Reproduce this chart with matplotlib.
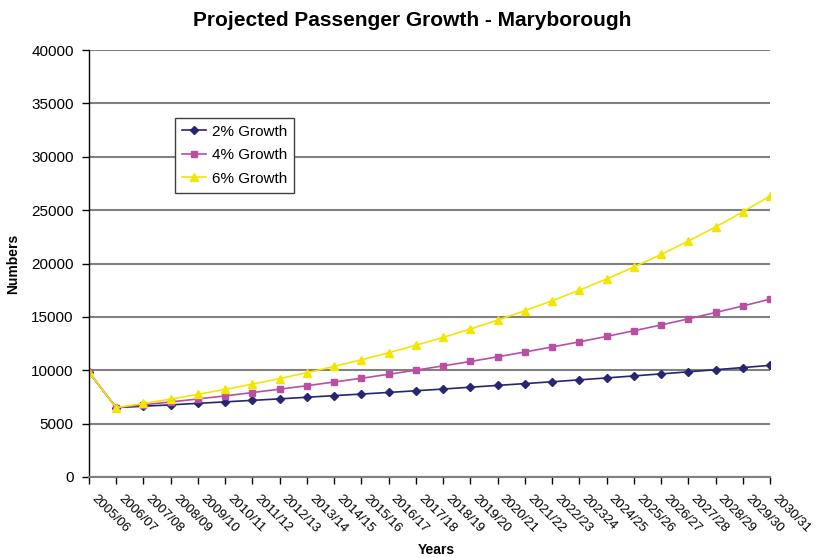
import matplotlib
matplotlib.use("Agg")
import matplotlib.pyplot as plt

years = ["2005/06", "2006/07", "2007/08", "2008/09", "2009/10", "2010/11", "2011/12",
         "2012/13", "2013/14", "2014/15", "2015/16", "2016/17", "2017/18", "2018/19",
         "2019/20", "2020/21", "2021/22", "2022/23", "202324", "2024/25", "2025/26",
         "2026/27", "2027/28", "2028/29", "2029/30", "2030/31"]

growth_2 = [9800, 6500, 6630, 6760, 6900, 7040, 7180, 7320, 7470, 7620, 7770, 7920, 8080,
            8240, 8410, 8580, 8750, 8920, 9100, 9280, 9470, 9660, 9850, 10050, 10250, 10460]
growth_4 = [9800, 6500, 6760, 7030, 7310, 7600, 7910, 8230, 8550, 8900, 9250, 9620, 10010,
            10410, 10820, 11260, 11710, 12180, 12660, 13170, 13700, 14240, 14810, 15410,
            16020, 16660]
growth_6 = [9800, 6500, 6890, 7300, 7740, 8210, 8700, 9220, 9770, 10360, 10980, 11640,
            12340, 13080, 13860, 14700, 15580, 16510, 17500, 18550, 19670, 20850, 22100,
            23420, 24830, 26320]

series_names = ["2% Growth", "4% Growth", "6% Growth"]
colors = ["#262673", "#B94FA3", "#F2E600"]
markers = ["D", "s", "^"]
msizes = [4, 5, 6]

plt.rcParams['font.family'] = ['Liberation Sans', 'DejaVu Sans']

fig = plt.figure(figsize=(8.16, 5.58), dpi=100)
ax = fig.add_axes([89/816, 1 - 477/558, (770-89)/816, (477-50)/558])

x = list(range(len(years)))
for vals, name, c, m, ms in zip([growth_2, growth_4, growth_6], series_names, colors, markers, msizes):
    ax.plot(x, vals, color=c, marker=m, markersize=ms, linewidth=1.2, label=name,
            markeredgecolor=c, markerfacecolor=c)

ax.set_xlim(0, len(years) - 1)
ax.set_ylim(0, 40000)
ax.set_yticks(range(0, 40001, 5000))
ax.set_yticklabels([str(v) for v in range(0, 40001, 5000)], fontsize=11)
ax.set_xticks(x)
ax.set_xticklabels(years, rotation=-45, ha='left', va='top', rotation_mode='default', fontsize=9.5)

ax.yaxis.grid(True, color='#808080', linewidth=1.5)
ax.set_axisbelow(True)
for s in ['top', 'right']:
    ax.spines[s].set_visible(False)
ax.spines['left'].set_color('black')
ax.spines['left'].set_linewidth(1.0)
ax.spines['bottom'].set_color('#808080')
ax.spines['bottom'].set_linewidth(1.5)
ax.tick_params(axis='y', length=5, width=1, color='black', pad=6)
ax.tick_params(axis='x', length=5, width=1, color='black', pad=6)

fig.text(412/816, 1 - 20/558, "Projected Passenger Growth - Maryborough", fontsize=15,
         fontweight='bold', ha='center', va='center')
ax.set_ylabel("Numbers", fontsize=10, fontweight='bold', labelpad=8)
fig.text(436/816, 1 - 550/558, "Years", fontsize=10, fontweight='bold', ha='center', va='center')

leg = ax.legend(loc='upper left', bbox_to_anchor=(0.126, 0.841), fontsize=11, frameon=True,
                fancybox=False, edgecolor='#404040', framealpha=1, borderpad=0.45,
                borderaxespad=0, handlelength=1.6, handletextpad=0.4, labelspacing=0.62)
leg.get_frame().set_linewidth(1.0)

fig.savefig("out.png", dpi=100)
